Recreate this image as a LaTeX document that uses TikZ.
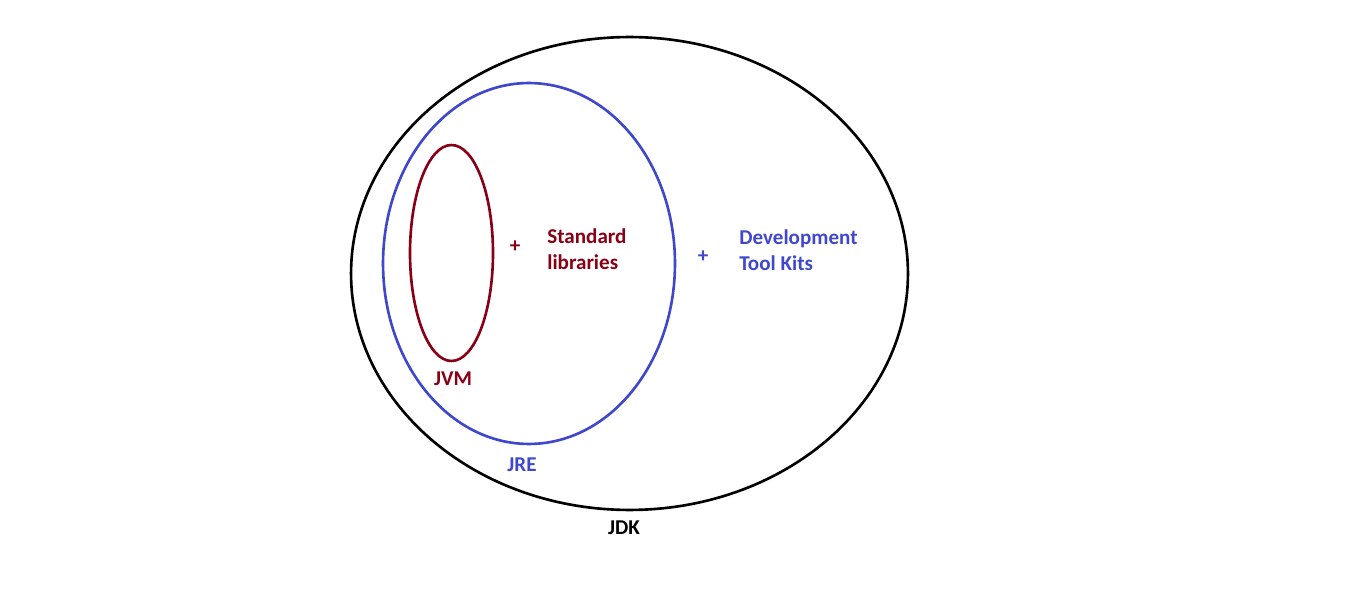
\documentclass[tikz,border=0pt]{standalone}
\usepackage{fontspec}
\setmainfont{Carlito}
\usepackage{xcolor}
\usetikzlibrary{shapes.geometric}
\definecolor{jvmred}{RGB}{136,0,21}
\definecolor{jreblue}{RGB}{63,72,204}
\tikzset{
  ring/.style={draw, ellipse, line width=1.5pt, inner sep=0pt},
  lbl/.style={font=\fontsize{12}{14.7}\selectfont\bfseries, inner sep=0pt, align=left}}
\begin{document}
\begin{tikzpicture}[x=0.02cm, y=-0.02cm]
  \useasboundingbox (0,0) rectangle (1360,594);
  \node[ring, black, minimum width=11.14cm, minimum height=9.46cm] (jdk) at (629.5,273.5) {};
  \node[ring, jreblue, minimum width=5.84cm, minimum height=7.22cm] (jre) at (529,263.5) {};
  \node[ring, jvmred, minimum width=1.66cm, minimum height=4.32cm] (jvm) at (451.5,253) {};
  \node[lbl, text=jvmred] (plusa) at (515,247) {+};
  \node[lbl, text=jvmred, anchor=west] (stdlib) at (547,249) {Standard\\libraries};
  \node[lbl, text=jreblue] (plusb) at (703,257) {+};
  \node[lbl, text=jreblue, anchor=west] (devkit) at (739,250) {Development\\Tool Kits};
  \node[lbl, text=jvmred] (jvmlbl) at (453,379) {JVM};
  \node[lbl, text=jreblue] (jrelbl) at (522,465) {JRE};
  \node[lbl, text=black] (jdklbl) at (624,528) {JDK};
\end{tikzpicture}
\end{document}
